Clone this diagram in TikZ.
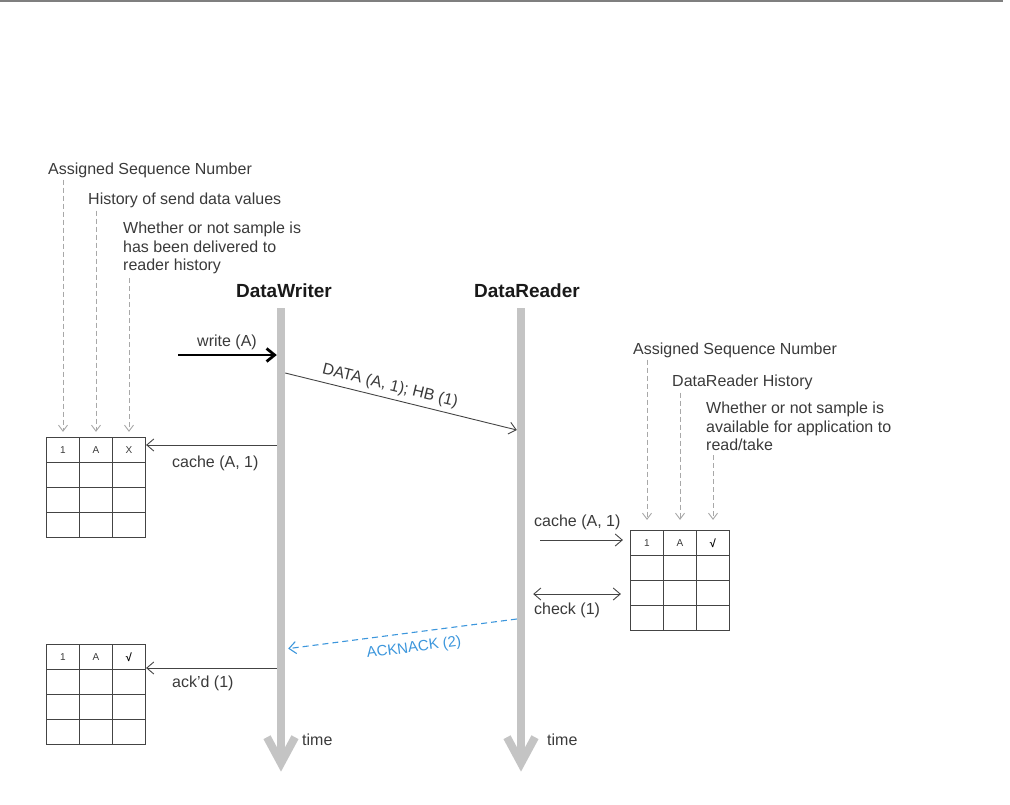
\documentclass[tikz,border=0pt]{standalone}
\usepackage{fontspec}
\setmainfont{Liberation Sans}
\usetikzlibrary{arrows.meta,matrix}
\definecolor{txt}{HTML}{3A3A3A}
\definecolor{lnc}{HTML}{444444}
\definecolor{life}{HTML}{C4C4C4}
\definecolor{dashc}{HTML}{A8A8A8}
\definecolor{ackblue}{HTML}{3C96DC}
\definecolor{topline}{HTML}{7F7F7F}
\begin{document}
\begin{tikzpicture}[x=1pt,y=-1pt,
  lbl/.style={font=\fontsize{16}{18.5}\selectfont, text=txt, inner sep=0pt},
  title/.style={font=\fontsize{19}{22}\selectfont\bfseries, text=black!90, inner sep=0pt},
  cell/.style={draw=lnc, line width=1.2pt, minimum width=33pt, minimum height=25pt, inner sep=0pt,
    font=\fontsize{10}{12}\selectfont, text=txt, anchor=center},
  tab/.style={matrix of nodes, nodes in empty cells, nodes={cell}, column sep=-1.2pt, row sep=-1.2pt, inner sep=0pt},
  tip/.style={Straight Barb[length=7pt,width=12pt]},
  msg/.style={draw=lnc, line width=0.9pt, -{Straight Barb[length=7pt,width=12pt]}},
  lifeline/.style={fill=life, draw=none, minimum width=8pt, minimum height=450pt, inner sep=0pt},
  timehead/.style={draw=life, line width=8pt, miter limit=10},
  annot/.style={draw=dashc, line width=0.9pt, dash pattern=on 5pt off 3pt, -{Straight Barb[length=6pt,width=9pt]}},
  chk/.style={font=\fontsize{11}{12}\selectfont\bfseries, text=black}
]
\useasboundingbox (0,0) rectangle (1010,804);
\draw[topline, line width=2pt] (0,1) -- (1003,1);

% lifelines
\node[lifeline] (WL) at (281,533) {};
\node[lifeline] (RL) at (521,533) {};
\draw[timehead] ([shift={(-14,-21)}]WL.south) -- ([shift={(0,5)}]WL.south) -- ([shift={(14,-21)}]WL.south);
\draw[timehead] ([shift={(-14,-21)}]RL.south) -- ([shift={(0,5)}]RL.south) -- ([shift={(14,-21)}]RL.south);
\node[title] (dw) at (284,291) {DataWriter};
\node[title] (dr) at (527,291) {DataReader};
\node[lbl, anchor=west] (tw) at (302,740) {time};
\node[lbl, anchor=west] (tr) at (547,740) {time};

% tables
\matrix (ta) [tab] at (96,487.5) {1 & A & X\\ & & \\ & & \\ & & \\};
\matrix (tb) [tab] at (680,580.5) {1 & A & |[chk]| √\\ & & \\ & & \\ & & \\};
\matrix (tc) [tab] at (96,694.5) {1 & A & |[chk]| √\\ & & \\ & & \\ & & \\};

% left annotations
\node[lbl, anchor=west] (la1) at (48,170) {Assigned Sequence Number};
\node[lbl, anchor=west] (la2) at (88,200) {History of send data values};
\node[lbl, anchor=north west, align=left] (la3) at (123,222) {Whether or not sample is\\has been delivered to\\reader history};
\draw[annot, shorten <=2pt, shorten >=5pt] (la1.south -| ta-1-1.north) -- (ta-1-1.north);
\draw[annot, shorten <=3pt, shorten >=5pt] (la2.south -| ta-1-2.north) -- (ta-1-2.north);
\draw[annot, shorten <=4pt, shorten >=5pt] (la3.south -| ta-1-3.north) -- (ta-1-3.north);

% right annotations
\node[lbl, anchor=west] (rb1) at (633,350) {Assigned Sequence Number};
\node[lbl, anchor=west] (rb2) at (672,382) {DataReader History};
\node[lbl, anchor=north west, align=left] (rb3) at (706,402) {Whether or not sample is\\available for application to\\read/take};
\draw[annot, shorten <=2pt, shorten >=10pt] (rb1.south -| tb-1-1.north) -- (tb-1-1.north);
\draw[annot, shorten <=3pt, shorten >=10pt] (rb2.south -| tb-1-2.north) -- (tb-1-2.north);
\draw[annot, shorten <=4pt, shorten >=10pt] (rb3.south -| tb-1-3.north) -- (tb-1-3.north);

% messages
\coordinate (wa) at (178,355);
\draw[draw=black, line width=2.8pt, -{Straight Barb[length=8pt,width=13pt]}] (wa) -- (wa -| WL.west);
\node[lbl] (wlab) at (227,342) {write (A)};

\draw[msg] (WL.east |- 0,373) -- (RL.west |- 0,430);
\node[lbl, rotate=-13.9] (dlab) at (390,386) {DATA (A, 1); HB (1)};

\draw[msg] (WL.west |- 0,445) -- (ta-1-3.east |- 0,445);
\node[lbl, anchor=west] (clab) at (172,463) {cache (A, 1)};

\draw[msg, shorten <=15pt, shorten >=7pt] (RL.east |- 0,540) -- (tb-1-1.west |- 0,540);
\node[lbl, anchor=west] (rclab) at (534,522) {cache (A, 1)};

\draw[msg, {Straight Barb[length=7pt,width=12pt]}-{Straight Barb[length=7pt,width=12pt]}, shorten <=8pt, shorten >=9pt] (RL.east |- 0,594) -- (tb-3-1.west |- 0,594);
\node[lbl, anchor=west] (chlab) at (534,610) {check (1)};

\draw[draw=ackblue, line width=1.1pt, dash pattern=on 6pt off 4pt, -{Straight Barb[length=7pt,width=12pt]}, shorten >=3pt] (RL.west |- 0,619) -- (WL.east |- 0,649);
\node[lbl, text=ackblue, font=\fontsize{15}{18}\selectfont, rotate=7.4] (alab) at (414,648) {ACKNACK (2)};

\draw[msg] (WL.west |- 0,668) -- (tc-1-3.east |- 0,668);
\node[lbl, anchor=west] (aklab) at (172,683) {ack'd (1)};
\end{tikzpicture}
\end{document}
